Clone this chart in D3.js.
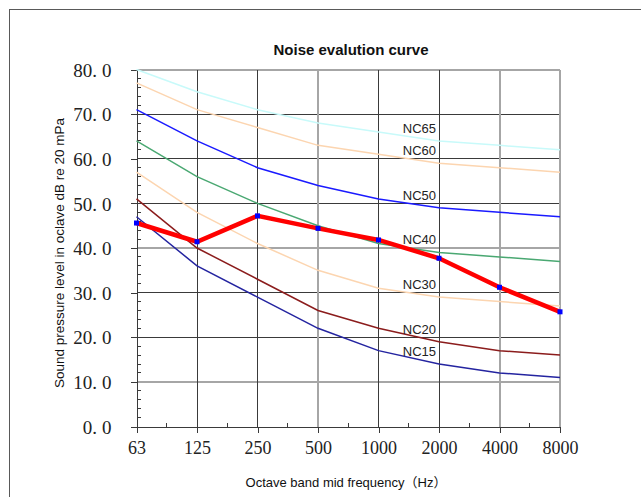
<!DOCTYPE html>
<html>
<head>
<meta charset="utf-8">
<script src="https://cdn.jsdelivr.net/npm/d3@7"></script>
<style>
	body { margin: 0; background: #fff; }
	svg { display: block; }
</style>
</head>
<body>
<div id="chart"></div>
<script>
const freqs = ["63", "125", "250", "500", "1000", "2000", "4000", "8000"];
const yTicks = [0, 10, 20, 30, 40, 50, 60, 70, 80];

const ncNames = ["NC65", "NC60", "NC50", "NC40", "NC30", "NC20", "NC15"];
const nc65 = [80, 75, 71, 68, 66, 64, 63, 62];
const nc60 = [77, 71, 67, 63, 61, 59, 58, 57];
const nc50 = [71, 64, 58, 54, 51, 49, 48, 47];
const nc40 = [64, 56, 50, 45, 41, 39, 38, 37];
const nc30 = [57, 48, 41, 35, 31, 29, 28, 27];
const nc20 = [51, 40, 33, 26, 22, 19, 17, 16];
const nc15 = [47, 36, 29, 22, 17, 14, 12, 11];

const measured = [45.6, 41.4, 47.2, 44.4, 41.8, 37.7, 31.2, 25.7];

const colors = {
	NC65: "#c8fafa",
	NC60: "#fcd5b0",
	NC50: "#1a1aff",
	NC40: "#4aa872",
	NC30: "#fcd5b0",
	NC20: "#8b1c1c",
	NC15: "#2424a0",
	measured: "#ff0000",
	marker: "#0000ff",
	grid: "#3a3a3a",
	softGrid: "#a6a6a6",
};

const curves = ncNames.map((name, i) => ({
	name,
	values: [nc65, nc60, nc50, nc40, nc30, nc20, nc15][i],
}));

const width = 641;
const height = 497;

const svg = d3.select("#chart").append("svg").attr("width", width).attr("height", height);

// outer frame (runs off the right and bottom edge like the source)
svg.append("rect")
	.attr("x", 9.5)
	.attr("y", 9.5)
	.attr("width", 800)
	.attr("height", 700)
	.attr("fill", "#fff")
	.attr("stroke", "#595959");

const x = d3.scalePoint().domain(freqs).range([136.5, 560]);
const y = d3.scaleLinear().domain([0, 80]).range([426.5, 69.5]);

// lines that look lighter in the source image
const softX = ["500", "4000", "8000"];
const softY = [10, 40, 80];

const grid = svg.append("g").attr("shape-rendering", "crispEdges");

grid.selectAll(".hgrid")
	.data(yTicks.filter((d) => d > 0))
	.join("line")
	.attr("class", "hgrid")
	.attr("x1", x(freqs[0]))
	.attr("x2", x(freqs[freqs.length - 1]))
	.attr("y1", (d) => y(d))
	.attr("y2", (d) => y(d))
	.attr("stroke", (d) => (softY.includes(d) ? colors.softGrid : colors.grid))
	.attr("stroke-width", (d) => (softY.includes(d) ? 2 : 1));

grid.selectAll(".vgrid")
	.data(freqs.slice(1))
	.join("line")
	.attr("class", "vgrid")
	.attr("x1", (d) => x(d))
	.attr("x2", (d) => x(d))
	.attr("y1", y(0))
	.attr("y2", y(80))
	.attr("stroke", (d) => (softX.includes(d) ? colors.softGrid : colors.grid))
	.attr("stroke-width", (d) => (softX.includes(d) ? 2 : 1));

// y axis
const yAxis = svg.append("g")
	.attr("transform", `translate(${x(freqs[0])},0)`)
	.attr("shape-rendering", "crispEdges")
	.call(d3.axisLeft(y).tickValues(yTicks).tickSize(6).tickSizeOuter(0).tickPadding(19).tickFormat(""));

yAxis.select(".domain").attr("stroke", colors.grid);
yAxis.selectAll(".tick line").attr("stroke", colors.grid);
yAxis.selectAll(".tick text").remove();

yAxis.selectAll(".tick")
	.append("text")
	.attr("x", -25)
	.attr("dy", "0.35em")
	.attr("text-anchor", "end")
	.attr("fill", "#222")
	.style("font-family", "'Liberation Serif', 'Times New Roman', serif")
	.style("font-size", "19px")
	.each(function (d) {
		const parts = d3.format(".1f")(d).split(".");
		const t = d3.select(this);
		t.append("tspan").text(parts[0] + ".");
		t.append("tspan").attr("dx", 5).text(parts[1]);
	});

// y minor ticks, pointing inward
yAxis.selectAll(".minor")
	.data(d3.range(2, 80, 2).filter((d) => d % 10 !== 0))
	.join("line")
	.attr("class", "minor")
	.attr("x1", 0)
	.attr("x2", 4)
	.attr("y1", (d) => y(d))
	.attr("y2", (d) => y(d))
	.attr("stroke", colors.grid);

// x axis
const xAxis = svg.append("g")
	.attr("transform", `translate(0,${y(0)})`)
	.attr("shape-rendering", "crispEdges")
	.call(d3.axisBottom(x).tickSize(6).tickSizeOuter(0).tickPadding(9));

xAxis.select(".domain").attr("stroke", colors.grid);
xAxis.selectAll(".tick line").attr("stroke", colors.grid);
xAxis.selectAll(".tick text")
	.attr("fill", "#222")
	.style("font-family", "'Liberation Serif', 'Times New Roman', serif")
	.style("font-size", "18px");

const step = x.step();
xAxis.selectAll(".minor")
	.data(freqs.slice(0, -1))
	.join("line")
	.attr("class", "minor")
	.attr("x1", (d) => x(d) + step / 2)
	.attr("x2", (d) => x(d) + step / 2)
	.attr("y1", 0)
	.attr("y2", -4)
	.attr("stroke", colors.grid);

// NC curves
const line = d3.line()
	.x((d, i) => x(freqs[i]))
	.y((d) => y(d));

svg.append("g")
	.selectAll(".nc")
	.data(curves)
	.join("path")
	.attr("class", "nc")
	.attr("d", (d) => line(d.values))
	.attr("fill", "none")
	.attr("stroke", (d) => colors[d.name])
	.attr("stroke-width", 1.5);

svg.append("g")
	.selectAll(".ncLabel")
	.data(curves)
	.join("text")
	.attr("class", "ncLabel")
	.attr("x", x("2000") - 3)
	.attr("y", (d) => y(d.values[5]) - 8)
	.attr("text-anchor", "end")
	.attr("fill", "#222")
	.style("font-family", "'Liberation Sans', Arial, sans-serif")
	.style("font-size", "13px")
	.text((d) => d.name);

// measured spectrum
svg.append("path")
	.datum(measured)
	.attr("d", line)
	.attr("fill", "none")
	.attr("stroke", colors.measured)
	.attr("stroke-width", 4.5)
	.attr("stroke-linejoin", "miter");

svg.append("g")
	.selectAll(".marker")
	.data(measured)
	.join("rect")
	.attr("class", "marker")
	.attr("x", (d, i) => x(freqs[i]) - 2.5)
	.attr("y", (d) => y(d) - 2.5)
	.attr("width", 5)
	.attr("height", 5)
	.attr("fill", colors.marker);

// titles
svg.append("text")
	.attr("x", 351)
	.attr("y", 55)
	.attr("text-anchor", "middle")
	.attr("fill", "#111")
	.style("font-family", "'Liberation Sans', Arial, sans-serif")
	.style("font-size", "15px")
	.style("font-weight", "bold")
	.text("Noise evalution curve");

svg.append("text")
	.attr("transform", "translate(64,253) rotate(-90)")
	.attr("text-anchor", "middle")
	.attr("fill", "#111")
	.style("font-family", "'Liberation Sans', Arial, sans-serif")
	.style("font-size", "13.5px")
	.text("Sound pressure level in oclave dB re 20 mPa");

svg.append("text")
	.attr("x", 346)
	.attr("y", 487)
	.attr("text-anchor", "middle")
	.attr("fill", "#111")
	.style("font-family", "'Liberation Sans', Arial, 'Noto Sans CJK SC', sans-serif")
	.style("font-size", "13px")
	.text("Octave band mid frequency（Hz）");
</script>
</body>
</html>
